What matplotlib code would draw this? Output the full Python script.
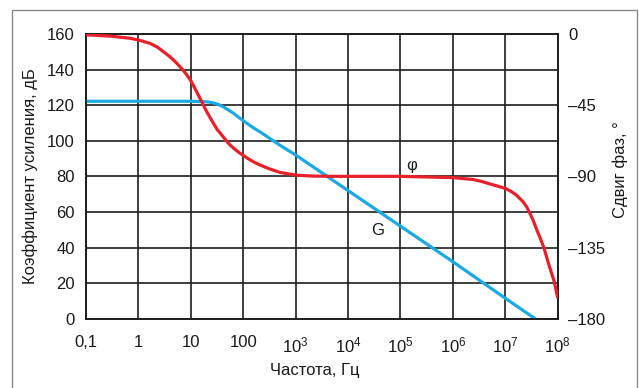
import matplotlib.pyplot as plt
from matplotlib.patches import Rectangle

plt.rcParams['font.family'] = ['Liberation Sans', 'DejaVu Sans']
plt.rcParams['mathtext.fontset'] = 'custom'
plt.rcParams['mathtext.rm'] = 'Liberation Sans'
plt.rcParams['mathtext.default'] = 'regular'

# АЧХ: коэффициент усиления, дБ
gain_f = [0.1, 1, 10, 20, 25, 32, 41.6, 52, 65.5, 87, 110, 150, 209, 300, 500,
          1e3, 1e4, 1e5, 1e6, 1e7, 3.7e7]
gain_db = [122.2, 122.2, 122.2, 121.9, 121.5, 120.6, 119.1, 117.3, 115.4, 112.6,
           110.4, 107.6, 105, 101.9, 97.5, 92, 72, 52, 32, 11.5, 0]

# ФЧХ: сдвиг фаз, градусы
phase_f = [0.1, 0.3, 0.69, 1, 1.66, 2.3, 3, 3.8, 4.65, 5.4, 6.2, 7.3, 8.4, 10, 11.4,
           12.9, 14.5, 16.2, 18, 20.1, 23.5, 27, 32, 39, 47, 56, 70, 87, 120, 160,
           209, 300, 500, 1e3, 2e3, 5e3, 1e5, 1e6, 2.45e6, 3.5e6, 5.1e6, 7e6, 1e7,
           1.3e7, 1.62e7, 2.17e7, 2.55e7, 2.95e7, 3.45e7, 4e7, 4.7e7, 5.5e7, 6.8e7,
           8.6e7, 1e8]
phase_deg = [-0.5, -1.4, -2.7, -3.8, -5.9, -8.3, -11.2, -13.8, -16.4, -18.5, -20.7,
             -23.3, -25.9, -29.5, -33, -36.5, -39.8, -42.8, -46, -49.1, -53, -56.5,
             -60.5, -63.9, -67.3, -70.2, -73, -75.4, -78.5, -81, -82.8, -85, -87.5,
             -89.2, -89.8, -90, -90, -90.8, -92, -93.2, -94.8, -96.1, -97.6, -99.6,
             -101.8, -106, -109.2, -113.4, -118.3, -123.9, -129.5, -135.5, -146,
             -156.6, -167]

x_ticks = [0.1, 1, 10, 100, 1e3, 1e4, 1e5, 1e6, 1e7, 1e8]
x_labels = ['0,1', '1', '10', '100', '$10^3$', '$10^4$', '$10^5$', '$10^6$', '$10^7$', '$10^8$']
gain_ticks = [0, 20, 40, 60, 80, 100, 120, 140, 160]
phase_ticks = [0, -45, -90, -135, -180]
phase_labels = ['0', '–45', '–90', '–135', '–180']

fig = plt.figure(figsize=(6.39, 3.88), dpi=100)
ax = fig.add_axes([0.1346, 0.1786, 0.7382, 0.7338])
ax2 = ax.twinx()

fs = 12
txt_col = '#1a1a1a'
grid_col = '#1e1e1e'
ax.set_xscale('log')
ax.set_xlim(0.1, 1e8)
ax.set_ylim(0, 160)
ax2.set_ylim(-180, 0)
ax.set_xticks(x_ticks)
ax.set_xticklabels(x_labels)
ax.minorticks_off()
ax.set_yticks(gain_ticks)
ax2.set_yticks(phase_ticks)
ax2.set_yticklabels(phase_labels)
ax.grid(True, color=grid_col, linewidth=1.2)
ax.set_axisbelow(True)

for a in (ax, ax2):
    a.tick_params(length=0, labelsize=fs, colors=txt_col)
    for s in a.spines.values():
        s.set_color(grid_col)
        s.set_linewidth(1.2)
ax.tick_params(axis='x', pad=12)
ax.tick_params(axis='y', pad=8)
ax2.tick_params(axis='y', pad=7.5)

ax.plot(gain_f, gain_db, color='#1aa9e3', linewidth=2.3, solid_capstyle='butt', zorder=3)
ax2.plot(phase_f, phase_deg, color='#e8202a', linewidth=2.3, solid_capstyle='butt', zorder=3)

ax.text(1.64e5, 86.3, 'φ', fontsize=fs, ha='center', va='center', color=txt_col)
ax.text(3.7e4, 49.8, 'G', fontsize=fs, ha='center', va='center', color=txt_col)

ax.set_ylabel('Коэффициент усиления, дБ', fontsize=fs, color=txt_col)
ax.yaxis.set_label_coords(-0.102, 0.5)
ax2.set_ylabel('Сдвиг фаз, °', fontsize=fs, color=txt_col, rotation=90)
ax2.yaxis.set_label_coords(1.117, 0.522)
ax.set_xlabel('Частота, Гц', fontsize=fs, color=txt_col)
ax.xaxis.set_label_coords(0.485, -0.155)

# рамка вокруг рисунка
fig.patches.append(Rectangle((12 / 639, -0.05), 625 / 639, 1.05 - 10 / 388,
                             transform=fig.transFigure, fill=False,
                             edgecolor='#8a8a8a', linewidth=1.0))

fig.savefig('out.png', dpi=100)
